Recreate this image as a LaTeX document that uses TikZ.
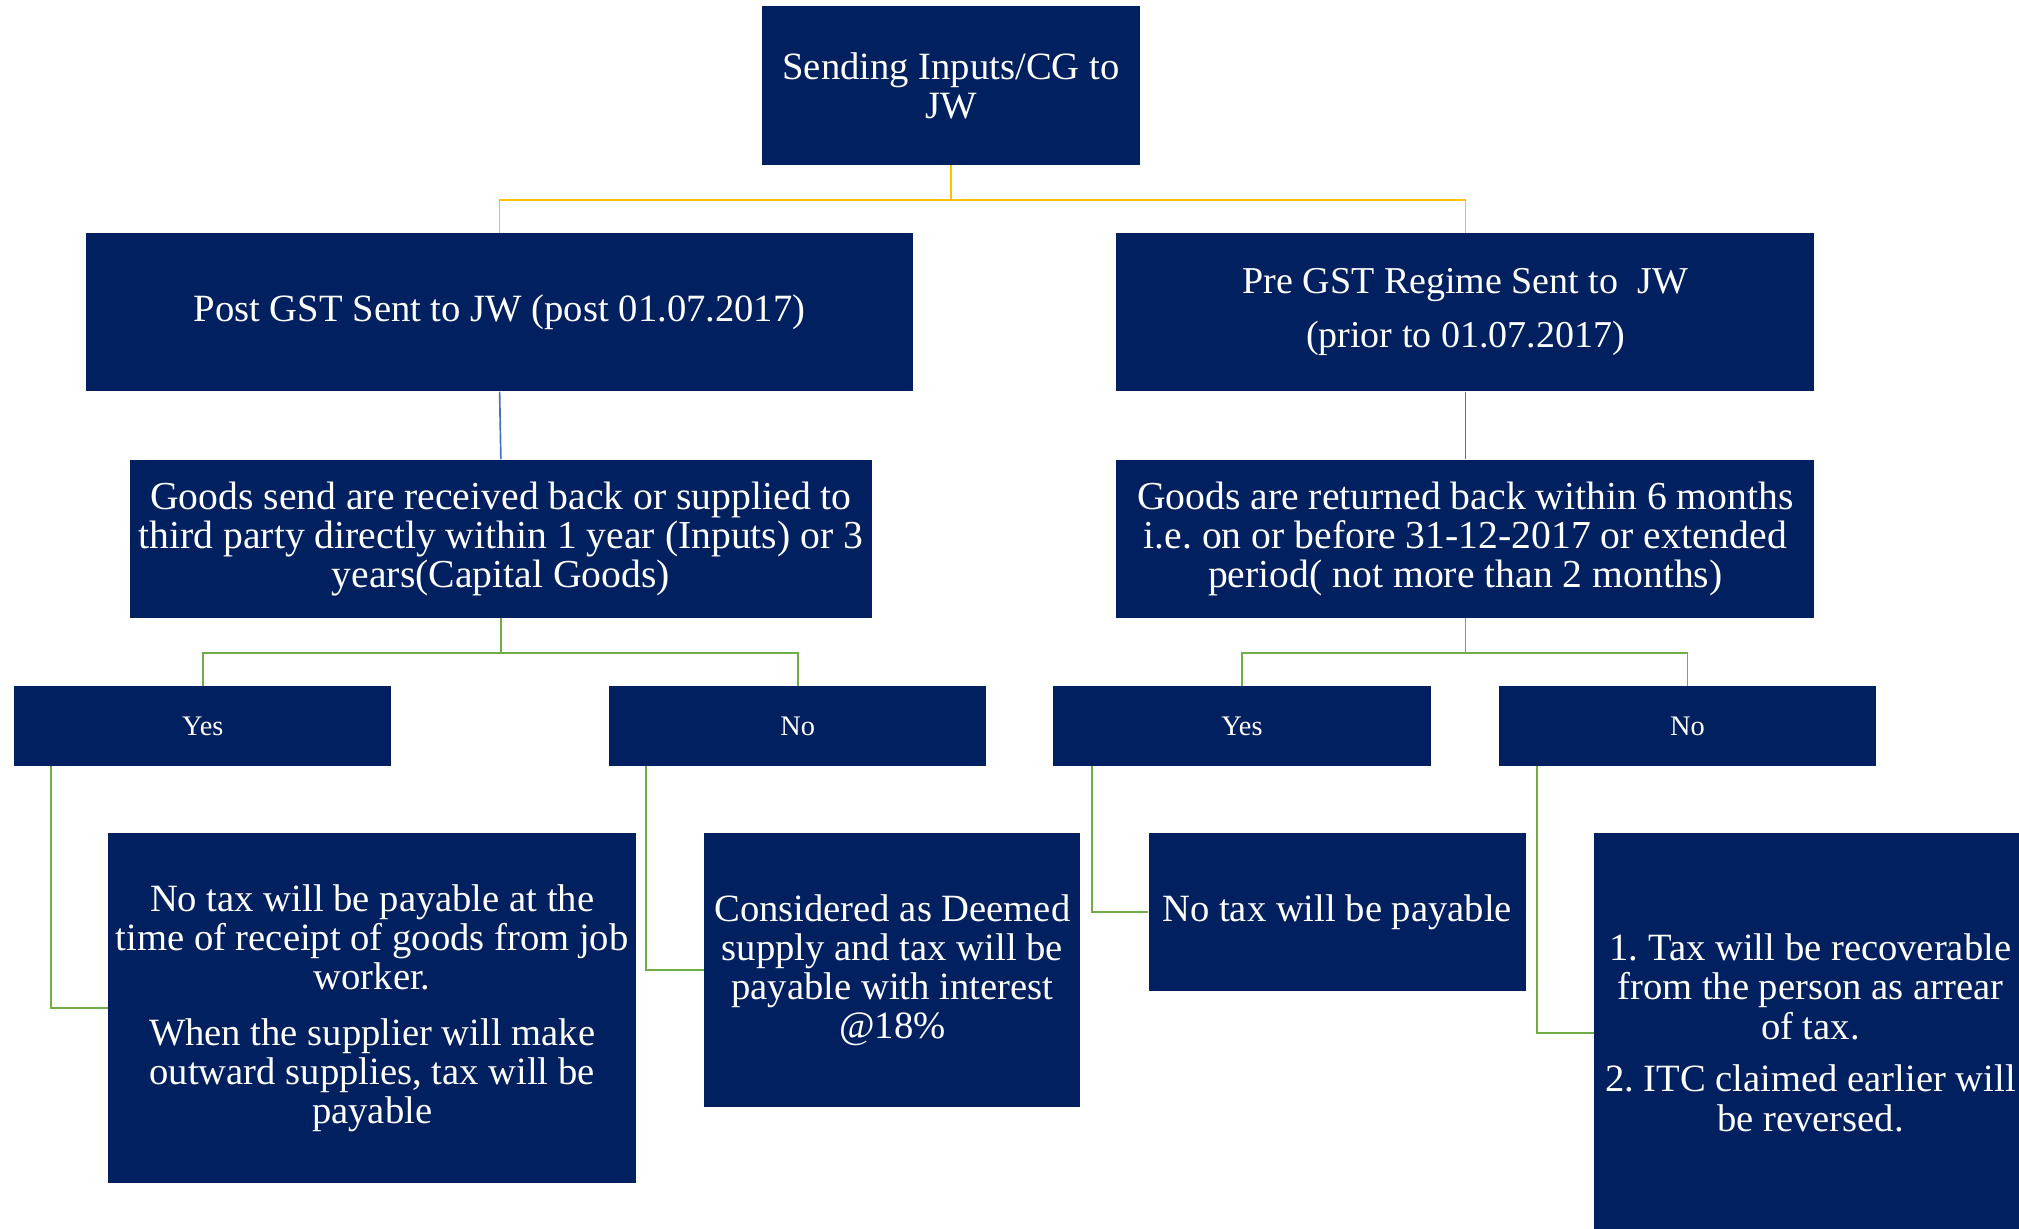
\documentclass[tikz,border=0pt]{standalone}
\usepackage{fontspec}
\setmainfont{Liberation Serif}
\usetikzlibrary{calc}
\frenchspacing
\definecolor{navy}{HTML}{002060}
\definecolor{lnyellow}{HTML}{FFC000}
\definecolor{lnblue}{HTML}{4472C4}
\definecolor{lngreen}{HTML}{70AD47}
\tikzset{
  box/.style={fill=navy, text=white, inner sep=0pt, align=center, anchor=center,
    font=\fontsize{30}{30.5}\selectfont},
  widetext/.style={font=\fontsize{30.8}{30.5}\selectfont},
  smallbox/.style={box, minimum width=293, minimum height=62,
    font=\fontsize{22}{24}\selectfont},
  link/.style={line width=1.3pt},
}
\begin{document}
\begin{tikzpicture}[x=1pt,y=-1pt]
\useasboundingbox (0,0) rectangle (1568,954);
\clip (0,0) rectangle (1568,954);

% level 0
\node[box, minimum width=293, minimum height=123] (top) at (738.5,66.5)
  {Sending Inputs/CG to\\JW};

% level 1
\node[box, minimum width=642, minimum height=123] (post) at (388,242.5)
  {Post GST Sent to JW (post 01.07.2017)};
\node[box, minimum width=542, minimum height=123,
  font=\fontsize{29.5}{42}\selectfont] (pre) at (1138,242.5)
  {Pre GST Regime Sent to~~JW\\(prior to 01.07.2017)};

% level 2
\node[box, widetext, minimum width=576, minimum height=123] (goodsL) at (389,418.5)
  {Goods send are received back or supplied to\\third party directly within 1 year (Inputs) or 3\\years(Capital Goods)};
\node[box, widetext, minimum width=542, minimum height=123] (goodsR) at (1138,418.5)
  {Goods are returned back within 6 months\\i.e. on or before 31-12-2017 or extended\\period( not more than 2 months)};

% answers
\node[smallbox] (yes1) at (157.5,564) {Yes};
\node[smallbox] (no1)  at (619.5,564) {No};
\node[smallbox] (yes2) at (964.5,564) {Yes};
\node[smallbox] (no2)  at (1310.5,564) {No};

% outcomes
\node[box, minimum width=410, minimum height=272] (out1) at (289,783)
  {No tax will be payable at the\\time of receipt of goods from job\\worker.\\[12.5pt]When the supplier will make\\outward supplies, tax will be\\payable};
\node[box, minimum width=292, minimum height=213] (out2) at (693,753.5)
  {Considered as Deemed\\supply and tax will be\\payable with interest\\@18\%};
\node[box, minimum width=293, minimum height=123] (out3) at (1038.5,708.5)
  {No tax will be payable};
\node[box, minimum width=336, minimum height=310] (out4) at (1406,802)
  {1. Tax will be recoverable\\from the person as arrear\\of tax.\\[10.5pt]2. ITC claimed earlier will\\be reversed.};

% connectors
\draw[link, lnyellow] (top.south) -- ++(0,27) -| (post.north);
\draw[link, lnyellow] (top.south) -- ++(0,27) -| (pre.north);
\draw[link, lnblue] (post.south) -- (goodsL.north);
\draw[link, lnblue] (pre.south) -- (goodsR.north);
\draw[link, lngreen] (goodsL.south) -- ++(0,27) -| (yes1.north);
\draw[link, lngreen] (goodsL.south) -- ++(0,27) -| (no1.north);
\draw[link, lngreen] (goodsR.south) -- ++(0,27) -| (yes2.north);
\draw[link, lngreen] (goodsR.south) -- ++(0,27) -| (no2.north);
\draw[link, lngreen] ($(yes1.south west)+(29,0)$) |- (out1.west);
\draw[link, lngreen] ($(no1.south west)+(29,0)$) |- (out2.west);
\draw[link, lngreen] ($(yes2.south west)+(30,0)$) |- (out3.west);
\draw[link, lngreen] ($(no2.south west)+(30,0)$) |- (out4.west);
\end{tikzpicture}
\end{document}
